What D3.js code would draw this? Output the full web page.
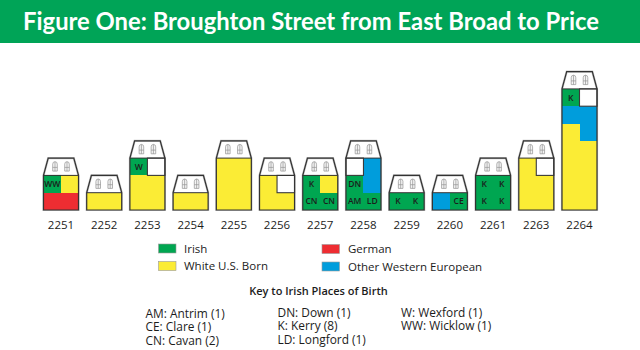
<!DOCTYPE html>
<html>
<head>
<meta charset="utf-8">
<script src="https://cdnjs.cloudflare.com/ajax/libs/d3/7.8.5/d3.min.js"></script>
<style>
  html, body { margin: 0; padding: 0; background: #fff; }
  svg { display: block; }
  text { font-family: "Open Sans", "Noto Sans", sans-serif; fill: #1c1c1c; }
</style>
</head>
<body>
<div id="chart"></div>
<script>
"use strict";

const WIDTH = 640;
const HEIGHT = 350;

const addresses = ["2251", "2252", "2253", "2254", "2255", "2256", "2257", "2258", "2259", "2260", "2261", "2263", "2264"];

// one entry per house, rows from the top, two cells per row
// Y white U.S. born, G German, O other western european, _ empty, anything else is an Irish place code
const households = [
	[["WW", "Y"], ["G", "G"]],
	[["Y", "Y"]],
	[["W", "_"], ["Y", "Y"], ["Y", "Y"]],
	[["Y", "Y"]],
	[["Y", "Y"], ["Y", "Y"], ["Y", "Y"]],
	[["Y", "_"], ["Y", "Y"]],
	[["K", "Y"], ["CN", "CN"]],
	[["_", "O"], ["DN", "O"], ["AM", "LD"]],
	[["K", "K"]],
	[["O", "CE"]],
	[["K", "K"], ["K", "K"]],
	[["Y", "_"], ["Y", "Y"], ["Y", "Y"]],
	[["K", "_"], ["O", "O"], ["Y", "O"], ["Y", "Y"], ["Y", "Y"], ["Y", "Y"], ["Y", "Y"]]
];

const legendLabels = ["Irish", "White U.S. Born", "German", "Other Western European"];
const legendColors = ["#00a651", "#fbec35", "#ee2d32", "#009ddc"];

const keyColumns = [
	["AM: Antrim (1)", "CE: Clare (1)", "CN: Cavan (2)"],
	["DN: Down (1)", "K: Kerry (8)", "LD: Longford (1)"],
	["W: Wexford (1)", "WW: Wicklow (1)"]
];

const svg = d3.select("#chart")
	.append("svg")
	.attr("width", WIDTH)
	.attr("height", HEIGHT)
	.attr("viewBox", `0 0 ${WIDTH} ${HEIGHT}`);

// title band
svg.append("rect")
	.attr("width", WIDTH)
	.attr("height", 43)
	.attr("fill", "#00a457");

svg.append("text")
	.attr("x", 311)
	.attr("y", 29.5)
	.attr("text-anchor", "middle")
	.style("font-family", "Lato, sans-serif")
	.style("font-size", "23.8px")
	.style("font-weight", 700)
	.style("fill", "#fff")
	.text("Figure One: Broughton Street from East Broad to Price");

// houses
const x = d3.scaleBand()
	.domain(addresses)
	.range([43.5, 597])
	.paddingInner(0.19)
	.paddingOuter(0);

const y = d3.scaleLinear()
	.domain([0, 8])
	.range([210, 71.6]);

const cellWidth = x.bandwidth() / 2;
const rowHeight = y(0) - y(1);

function cellColor(code) {
	if (code === "_") return "#fff";
	if (code === "Y") return legendColors[1];
	if (code === "G") return legendColors[2];
	if (code === "O") return legendColors[3];
	return legendColors[0];
}

const isPlace = code => !["_", "Y", "G", "O"].includes(code);

const houses = svg.selectAll("g.house")
	.data(addresses.map((address, i) => ({ address, rows: households[i] })))
	.enter()
	.append("g")
	.attr("class", "house")
	.attr("transform", d => `translate(${x(d.address)},0)`);

houses.each(function (d) {
	const house = d3.select(this);
	const floors = d.rows.length;
	const wallTop = y(floors);
	const roofTop = y(floors + 1);
	const w = x.bandwidth();

	// soft edge round the outline
	house.append("path")
		.attr("d", `M0,${y(0)}V${wallTop}L4.7,${roofTop}H${w - 4.7}L${w},${wallTop}V${y(0)}Z`)
		.attr("fill", "#fff")
		.attr("stroke", "#c4c4c4")
		.attr("stroke-width", 2.2);

	const cells = [];
	d.rows.forEach((row, r) => row.forEach((code, c) => cells.push({ code, r, c })));

	// crisp edges, otherwise the white shows through between cells
	house.selectAll("rect.cell")
		.data(cells)
		.enter()
		.append("rect")
		.attr("class", "cell")
		.attr("x", c => c.c * cellWidth)
		.attr("y", c => y(floors - c.r))
		.attr("width", cellWidth)
		.attr("height", rowHeight)
		.attr("fill", c => cellColor(c.code))
		.attr("shape-rendering", "crispEdges");

	// empty cells get a dark line round them
	house.selectAll("rect.empty")
		.data(cells.filter(c => c.code === "_"))
		.enter()
		.append("rect")
		.attr("class", "empty")
		.attr("x", c => c.c * cellWidth)
		.attr("y", c => y(floors - c.r))
		.attr("width", cellWidth)
		.attr("height", rowHeight)
		.attr("fill", "#fff")
		.attr("stroke", "#3a3a3a")
		.attr("stroke-width", 1.1);

	house.selectAll("text.place")
		.data(cells.filter(c => isPlace(c.code)))
		.enter()
		.append("text")
		.attr("class", "place")
		.attr("x", c => (c.c + 0.5) * cellWidth)
		.attr("y", c => y(floors - c.r) + rowHeight / 2 + 3)
		.attr("text-anchor", "middle")
		.style("font-size", "8.5px")
		.style("font-weight", 600)
		.text(c => c.code);

	// outline and floor line under the roof
	house.append("path")
		.attr("d", `M0,${y(0)}V${wallTop}L4.7,${roofTop}H${w - 4.7}L${w},${wallTop}V${y(0)}Z`)
		.attr("fill", "none")
		.attr("stroke", "#333")
		.attr("stroke-width", 1.2);
	house.append("line")
		.attr("x1", 0)
		.attr("x2", w)
		.attr("y1", wallTop)
		.attr("y2", wallTop)
		.attr("stroke", "#333")
		.attr("stroke-width", 1);

	// two dormer windows
	[-6, 6].forEach(dx => {
		const cx = w / 2 + dx;
		const top = wallTop - 13.7;
		house.append("path")
			.attr("d", `M${cx - 2.3},${wallTop - 4.3}V${top + 2.5}Q${cx - 2.3},${top} ${cx},${top}Q${cx + 2.3},${top} ${cx + 2.3},${top + 2.5}V${wallTop - 4.3}Z`
				+ `M${cx - 2.3},${wallTop - 8}H${cx + 2.3}M${cx},${top}V${wallTop - 4.3}`)
			.attr("fill", "#f4f4f4")
			.attr("stroke", "#939393")
			.attr("stroke-width", 0.7);
	});

	house.append("text")
		.attr("x", w / 2)
		.attr("y", 228.5)
		.attr("text-anchor", "middle")
		.style("font-size", "11.5px")
		.text(d.address);
});

// legend, filled down then across
const legendX = d3.scalePoint().domain([0, 1]).range([158.5, 322]);
const legendY = d3.scalePoint().domain([0, 1]).range([244, 261.5]);

const legend = svg.selectAll("g.legend")
	.data(legendLabels)
	.enter()
	.append("g")
	.attr("class", "legend")
	.attr("transform", (d, i) => `translate(${legendX(Math.floor(i / 2))},${legendY(i % 2) + (i > 1 ? 0.5 : 0)})`);

legend.append("rect")
	.attr("width", 17.5)
	.attr("height", 9)
	.attr("fill", (d, i) => legendColors[i])
	.attr("stroke", "#9a9a9a")
	.attr("stroke-width", 0.6);

legend.append("text")
	.attr("x", (d, i) => i > 1 ? 26 : 25.5)
	.attr("y", 8.8)
	.style("font-size", "11.5px")
	.text(d => d);

// key
svg.append("text")
	.attr("x", 318.5)
	.attr("y", 295)
	.attr("text-anchor", "middle")
	.style("font-size", "11px")
	.style("font-weight", 600)
	.text("Key to Irish Places of Birth");

const keyX = [145.5, 277.5, 401];
const keyY = [317.5, 331, 345];

keyColumns.forEach((column, c) => {
	svg.selectAll(`text.key${c}`)
		.data(column)
		.enter()
		.append("text")
		.attr("class", `key${c}`)
		.attr("x", keyX[c])
		.attr("y", (d, i) => keyY[i] - (c > 0 ? 1 : 0))
		.style("font-size", "11.9px")
		.text(d => d);
});
</script>
</body>
</html>
